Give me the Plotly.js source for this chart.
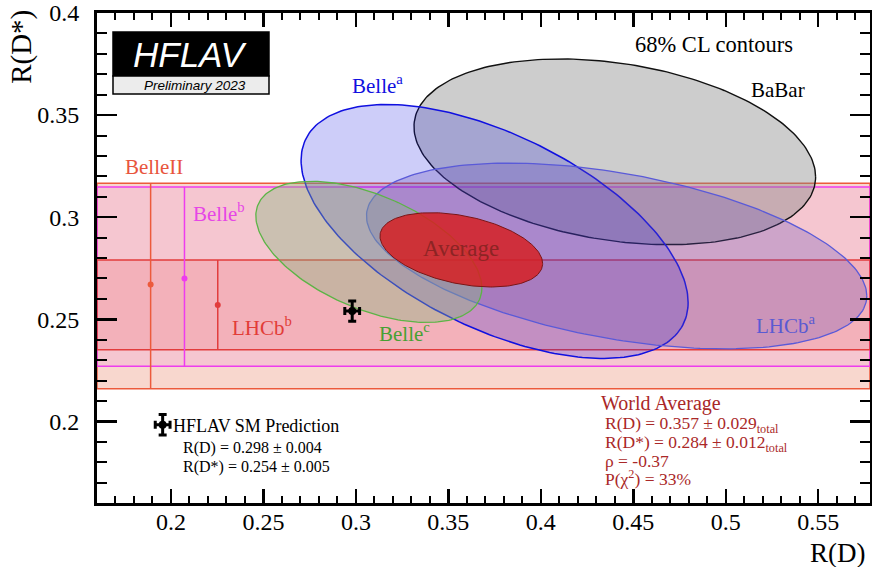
<!DOCTYPE html>
<html>
<head>
<meta charset="utf-8">
<script src="https://cdn.plot.ly/plotly-3.0.1.min.js"></script>
<style>html,body{margin:0;padding:0;background:#fff;}#chart{width:872px;height:567px;}</style>
</head>
<body>
<div id="chart"></div>
<script>
// ---------------- DATA ----------------
// 2D measurements (R(D), R(D*)) with total uncertainties and correlation
const ellNames   = ['BaBar', 'Belle (a)', 'LHCb (a)', 'Belle (c)', 'Average'];
const ellRD      = [0.440, 0.375, 0.441, 0.307, 0.357];
const ellRDerr   = [0.0716, 0.069, 0.0892, 0.0403, 0.029];
const ellRDs     = [0.332, 0.293, 0.281, 0.283, 0.284];
const ellRDserr  = [0.030, 0.041, 0.030, 0.0228, 0.012];
const ellRho     = [-0.27, -0.56, -0.43, -0.51, -0.37];
const deltaChi2  = 2.30;   // 68% CL for 2 parameters

// R(D*)-only measurements (bands)
const bandNames  = ['BelleII', 'Belle (b)', 'LHCb (b)'];
const bandRDs    = [0.267, 0.270, 0.257];
const bandErrUp  = [0.0496, 0.0448, 0.022];
const bandErrDn  = [0.0511, 0.0430, 0.022];

// SM prediction
const smRD = [0.298], smRDerr = [0.004];
const smRDs = [0.254], smRDserr = [0.005];

// axis ticks
const xTickVals = [0.2, 0.25, 0.3, 0.35, 0.4, 0.45, 0.5, 0.55];
const xTickText = ['0.2', '0.25', '0.3', '0.35', '0.4', '0.45', '0.5', '0.55'];
const yTickVals = [0.2, 0.25, 0.3, 0.35, 0.4];
const yTickText = ['0.2', '0.25', '0.3', '0.35', '0.4'];

// ---------------- STYLE / POSITIONS ----------------
const ellFill = ['rgba(135,135,135,0.42)', 'rgba(20,20,225,0.21)', 'rgba(100,75,182,0.28)', 'rgba(134,184,126,0.38)', 'rgba(215,30,32,0.84)'];
const ellLine = ['#111111', '#1010e0', '#5a5ad8', '#5cb446', '#7a1515'];
const ellLW   = [1.4, 1.5, 1.3, 1.3, 1.0];
const bandFill = ['rgba(230,110,80,0.28)', 'rgba(230,50,230,0.10)', 'rgba(230,40,40,0.13)'];
const bandLine = ['#ec5a3c', '#ee3cee', '#e23c3c'];
const bandMarkX = [0.189, 0.2073, 0.2253];
const smLegendX = 0.1955, smLegendY = 0.1983;

const FONT = 'Liberation Serif';

// ---------------- TRACES ----------------
const traces = [];
function ellipse(i) {
  const k = Math.sqrt(deltaChi2);
  const xs = [], ys = [];
  const n = 240;
  for (let j = 0; j <= n; j++) {
    const t = 2 * Math.PI * j / n;
    xs.push(ellRD[i] + k * ellRDerr[i] * Math.cos(t));
    ys.push(ellRDs[i] + k * ellRDserr[i] * (ellRho[i] * Math.cos(t) + Math.sqrt(1 - ellRho[i] * ellRho[i]) * Math.sin(t)));
  }
  return {x: xs, y: ys, mode: 'lines', fill: 'toself', fillcolor: ellFill[i],
          line: {color: ellLine[i], width: ellLW[i]}, hoverinfo: 'skip', name: ellNames[i]};
}
for (let i = 0; i < ellNames.length; i++) traces.push(ellipse(i));

for (let i = 0; i < bandNames.length; i++) {
  traces.push({x: [bandMarkX[i]], y: [bandRDs[i]], mode: 'markers', name: bandNames[i],
    marker: {color: bandLine[i], size: 6},
    error_y: {type: 'data', symmetric: false, array: [bandErrUp[i]], arrayminus: [bandErrDn[i]],
              color: bandLine[i], thickness: 1.5, width: 0}});
}

function smTrace(x, y) {
  return {x: x, y: y, mode: 'markers', name: 'SM',
    marker: {color: '#000', size: 8, symbol: 'circle'},
    error_x: {type: 'data', array: smRDerr, color: '#000', thickness: 3, width: 4},
    error_y: {type: 'data', array: smRDserr, color: '#000', thickness: 3, width: 4}};
}
traces.push(smTrace(smRD, smRDs));
traces.push(smTrace([smLegendX], [smLegendY]));

// ---------------- SHAPES ----------------
const shapes = [];
for (let i = 0; i < bandNames.length; i++) {
  shapes.push({type: 'rect', layer: 'below', xref: 'paper', yref: 'y', x0: 0, x1: 1,
    y0: bandRDs[i] - bandErrDn[i], y1: bandRDs[i] + bandErrUp[i],
    fillcolor: bandFill[i], line: {color: bandLine[i], width: 1.5}});
}
// HFLAV logo
shapes.push({type: 'rect', xref: 'paper', yref: 'paper', x0: 0.0207, x1: 0.2225, y0: 0.8714, y1: 0.9612,
  fillcolor: '#000', line: {color: '#000', width: 1.5}});
shapes.push({type: 'rect', xref: 'paper', yref: 'paper', x0: 0.0207, x1: 0.2225, y0: 0.8347, y1: 0.8714,
  fillcolor: '#ececec', line: {color: '#000', width: 1.5}});

// ---------------- ANNOTATIONS ----------------
function ann(text, x, y, size, color, xanchor, extra) {
  return Object.assign({text: text, x: x, y: y, xref: 'x', yref: 'y', showarrow: false,
    xanchor: xanchor || 'center', yanchor: 'middle',
    font: {family: FONT, size: size, color: color}}, extra || {});
}
const annotations = [
  ann('68% CL contours', 0.4936, 0.3848, 22.5, '#000'),
  ann('BaBar', 0.5285, 0.3623, 21, '#000'),
  ann('Belle<sup>a</sup>', 0.2969, 0.3650, 21, '#1010e0', 'left'),
  ann('BelleII', 0.1906, 0.3245, 21, '#e8553c'),
  ann('Belle<sup>b</sup>', 0.2109, 0.3025, 21, '#e646e6', 'left'),
  ann('Average', 0.357, 0.2845, 23, '#8c2424'),
  ann('LHCb<sup>b</sup>', 0.232, 0.2465, 21, '#e23c37', 'left'),
  ann('Belle<sup>c</sup>', 0.3115, 0.2435, 21, '#46a032', 'left'),
  ann('LHCb<sup>a</sup>', 0.515, 0.2475, 21, '#5a5ad2', 'left'),
  ann('HFLAV SM Prediction', 0.2, 0.1976, 18, '#000', 'left'),
  ann('R(D) = 0.298 ± 0.004', 0.2055, 0.1869, 16, '#000', 'left'),
  ann('R(D*) = 0.254 ± 0.005', 0.2055, 0.1776, 16, '#000', 'left'),
  ann('World Average', 0.4316, 0.2089, 20, '#aa2828', 'left'),
  ann('R(D) = 0.357 ± 0.029<sub>total</sub>', 0.4338, 0.1985, 17.5, '#aa2828', 'left'),
  ann('R(D*) = 0.284 ± 0.012<sub>total</sub>', 0.4338, 0.1892, 17.5, '#aa2828', 'left'),
  ann('ρ = -0.37', 0.4338, 0.1804, 17.5, '#aa2828', 'left'),
  ann('P(χ<sup>2</sup>) = 33%', 0.4338, 0.1721, 17.5, '#aa2828', 'left'),
  // axis titles
  {text: 'R(D*)', xref: 'paper', yref: 'paper', x: -0.097, y: 1.0105, textangle: -90, showarrow: false,
   xanchor: 'center', yanchor: 'top', font: {family: FONT, size: 29, color: '#000'}},
  {text: 'R(D)', xref: 'paper', yref: 'paper', x: 0.9974, y: -0.067, showarrow: false,
   xanchor: 'right', yanchor: 'top', font: {family: FONT, size: 27, color: '#000'}},
  // logo text
  {text: '<i>HFLAV</i>', xref: 'paper', yref: 'paper', x: 0.1216, y: 0.9163, showarrow: false,
   xanchor: 'center', yanchor: 'middle', font: {family: 'Liberation Sans', size: 35, color: '#fff'}},
  {text: '<i>Preliminary 2023</i>', xref: 'paper', yref: 'paper', x: 0.1268, y: 0.853, showarrow: false,
   xanchor: 'center', yanchor: 'middle', font: {family: 'Liberation Sans', size: 13.5, color: '#000'}}
];

// ---------------- LAYOUT ----------------
const axisCommon = {
  showline: true, linecolor: '#000', linewidth: 3, mirror: 'allticks',
  ticks: 'inside', tickcolor: '#000', tickwidth: 2.5,
  showgrid: false, zeroline: false, tickmode: 'array',
  tickfont: {family: FONT, size: 24, color: '#000'}
};
const layout = {
  width: 872, height: 567,
  margin: {l: 97, r: 2, t: 13, b: 64},
  paper_bgcolor: '#fff', plot_bgcolor: '#fff',
  font: {family: FONT},
  showlegend: false,
  xaxis: Object.assign({}, axisCommon, {range: [0.16, 0.578], tickvals: xTickVals, ticktext: xTickText,
    ticklen: 14, ticklabelstandoff: -5,
    minor: {ticks: 'inside', ticklen: 7, tickwidth: 2, tickcolor: '#000', tick0: 0, dtick: 0.01}}),
  yaxis: Object.assign({}, axisCommon, {range: [0.16, 0.4], tickvals: yTickVals, ticktext: yTickText,
    ticklen: 20, ticklabelstandoff: 10,
    minor: {ticks: 'inside', ticklen: 10, tickwidth: 2, tickcolor: '#000', tick0: 0, dtick: 0.01}}),
  shapes: shapes,
  annotations: annotations
};

Plotly.newPlot('chart', traces, layout, {staticPlot: true, displayModeBar: false});
</script>
</body>
</html>
